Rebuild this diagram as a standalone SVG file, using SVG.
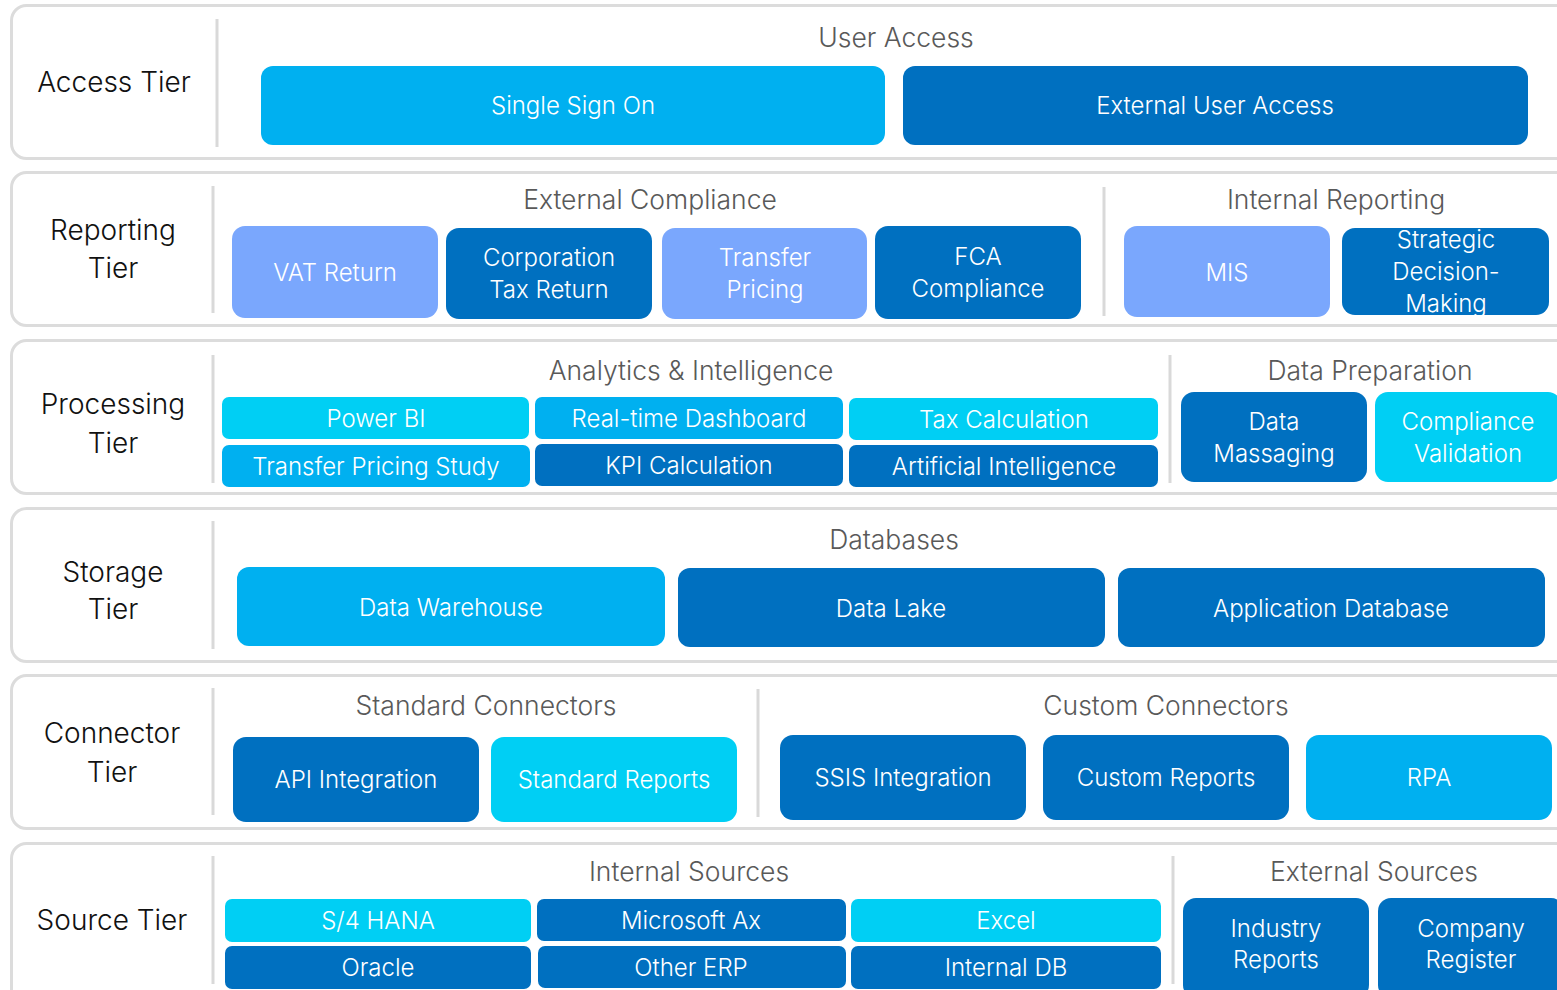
<svg xmlns="http://www.w3.org/2000/svg" width="1557" height="990" viewBox="0 0 1557 990">
<style>
.tier{fill:#fff;stroke:#dcdcdc;stroke-width:3}
.div{stroke:#d9d9d9;stroke-width:3}
.lbl{font-family:Inter,"Liberation Sans",sans-serif;font-weight:300;font-size:28px;fill:#111;text-anchor:middle}
.hdr{font-family:Inter,"Liberation Sans",sans-serif;font-weight:300;font-size:26.5px;fill:#595959;text-anchor:middle}
.t{font-family:Inter,"Liberation Sans",sans-serif;font-weight:300;font-size:24px;fill:#fff;text-anchor:middle}
.sky{fill:#00B0F0}
.dark{fill:#0070C0}
.peri{fill:#7AA7FD}
.cyan{fill:#00CFF4}
</style>
<rect width="1557" height="990" fill="#fff"/>

<g id="tiers">
<rect class="tier" x="11.5" y="5.5" width="1570" height="153" rx="15"/>
<rect class="tier" x="11.5" y="172.5" width="1570" height="153" rx="15"/>
<rect class="tier" x="11.5" y="340.5" width="1570" height="153" rx="15"/>
<rect class="tier" x="11.5" y="508.5" width="1570" height="153" rx="15"/>
<rect class="tier" x="11.5" y="675.5" width="1570" height="153" rx="15"/>
<rect class="tier" x="11.5" y="843.5" width="1570" height="160" rx="15"/>
<line class="div" x1="217" y1="19" x2="217" y2="147"/>
<line class="div" x1="213" y1="186" x2="213" y2="313"/>
<line class="div" x1="1104" y1="187" x2="1104" y2="316"/>
<line class="div" x1="213" y1="355" x2="213" y2="483"/>
<line class="div" x1="1170" y1="355" x2="1170" y2="483"/>
<line class="div" x1="213" y1="521" x2="213" y2="649"/>
<line class="div" x1="213" y1="688" x2="213" y2="815"/>
<line class="div" x1="758" y1="689" x2="758" y2="817"/>
<line class="div" x1="213" y1="856" x2="213" y2="984"/>
<line class="div" x1="1173" y1="856" x2="1173" y2="984"/>
<text class="lbl" x="114" y="92">Access Tier</text>
<text class="lbl" x="113" y="240">Reporting</text>
<text class="lbl" x="113" y="278">Tier</text>
<text class="lbl" x="113" y="414">Processing</text>
<text class="lbl" x="113" y="453">Tier</text>
<text class="lbl" x="113" y="582">Storage</text>
<text class="lbl" x="113" y="619">Tier</text>
<text class="lbl" x="112" y="743">Connector</text>
<text class="lbl" x="112" y="782">Tier</text>
<text class="lbl" x="112" y="930">Source Tier</text>
<text class="hdr" x="896" y="47">User Access</text>
<text class="hdr" x="650" y="209">External Compliance</text>
<text class="hdr" x="1336" y="209">Internal Reporting</text>
<text class="hdr" x="691" y="380">Analytics &amp; Intelligence</text>
<text class="hdr" x="1370" y="380">Data Preparation</text>
<text class="hdr" x="894" y="549">Databases</text>
<text class="hdr" x="486" y="715">Standard Connectors</text>
<text class="hdr" x="1166" y="715">Custom Connectors</text>
<text class="hdr" x="689" y="881">Internal Sources</text>
<text class="hdr" x="1374" y="881">External Sources</text>
</g>

<g id="n-sso"><rect class="sky" x="261" y="66" width="624" height="79" rx="12"/><text class="t" x="573" y="114">Single Sign On</text></g>
<g id="n-ext-user"><rect class="dark" x="903" y="66" width="625" height="79" rx="12"/><text class="t" x="1215" y="114">External User Access</text></g>

<g id="n-vat"><rect class="peri" x="232" y="226" width="206" height="92" rx="13"/><text class="t" x="335" y="281">VAT Return</text></g>
<g id="n-ctr"><rect class="dark" x="446" y="228" width="206" height="91" rx="13"/><text class="t" x="549" y="266">Corporation</text><text class="t" x="549" y="298">Tax Return</text></g>
<g id="n-tp"><rect class="peri" x="662" y="228" width="205" height="91" rx="13"/><text class="t" x="765" y="266">Transfer</text><text class="t" x="765" y="298">Pricing</text></g>
<g id="n-fca"><rect class="dark" x="875" y="226" width="206" height="93" rx="13"/><text class="t" x="978" y="265">FCA</text><text class="t" x="978" y="297">Compliance</text></g>
<g id="n-mis"><rect class="peri" x="1124" y="226" width="206" height="91" rx="13"/><text class="t" x="1227" y="281">MIS</text></g>
<g id="n-sdm"><rect class="dark" x="1342" y="228" width="207" height="87" rx="13"/><text class="t" x="1446" y="248">Strategic</text><text class="t" x="1446" y="280">Decision-</text><text class="t" x="1446" y="312">Making</text></g>

<g id="n-powerbi"><rect class="cyan" x="222" y="397" width="307" height="42" rx="7"/><text class="t" x="376" y="427">Power BI</text></g>
<g id="n-rtd"><rect class="sky" x="535" y="397" width="308" height="42" rx="7"/><text class="t" x="689" y="427">Real-time Dashboard</text></g>
<g id="n-taxcalc"><rect class="cyan" x="849" y="398" width="309" height="42" rx="7"/><text class="t" x="1004" y="428">Tax Calculation</text></g>
<g id="n-tps"><rect class="sky" x="222" y="445" width="308" height="42" rx="7"/><text class="t" x="376" y="475">Transfer Pricing Study</text></g>
<g id="n-kpi"><rect class="dark" x="535" y="444" width="308" height="42" rx="7"/><text class="t" x="689" y="474">KPI Calculation</text></g>
<g id="n-ai"><rect class="dark" x="849" y="445" width="309" height="42" rx="7"/><text class="t" x="1004" y="475">Artificial Intelligence</text></g>
<g id="n-massage"><rect class="dark" x="1181" y="392" width="186" height="90" rx="13"/><text class="t" x="1274" y="430">Data</text><text class="t" x="1274" y="462">Massaging</text></g>
<g id="n-compval"><rect class="cyan" x="1375" y="392" width="186" height="90" rx="13"/><text class="t" x="1468" y="430">Compliance</text><text class="t" x="1468" y="462">Validation</text></g>

<g id="n-dw"><rect class="sky" x="237" y="567" width="428" height="79" rx="12"/><text class="t" x="451" y="616">Data Warehouse</text></g>
<g id="n-dl"><rect class="dark" x="678" y="568" width="427" height="79" rx="12"/><text class="t" x="891" y="617">Data Lake</text></g>
<g id="n-appdb"><rect class="dark" x="1118" y="568" width="427" height="79" rx="12"/><text class="t" x="1331" y="617">Application Database</text></g>

<g id="n-api"><rect class="dark" x="233" y="737" width="246" height="85" rx="13"/><text class="t" x="356" y="788">API Integration</text></g>
<g id="n-stdrep"><rect class="cyan" x="491" y="737" width="246" height="85" rx="13"/><text class="t" x="614" y="788">Standard Reports</text></g>
<g id="n-ssis"><rect class="dark" x="780" y="735" width="246" height="85" rx="13"/><text class="t" x="903" y="786">SSIS Integration</text></g>
<g id="n-custrep"><rect class="dark" x="1043" y="735" width="246" height="85" rx="13"/><text class="t" x="1166" y="786">Custom Reports</text></g>
<g id="n-rpa"><rect class="sky" x="1306" y="735" width="246" height="85" rx="13"/><text class="t" x="1429" y="786">RPA</text></g>

<g id="n-s4"><rect class="cyan" x="225" y="899" width="306" height="43" rx="7"/><text class="t" x="378" y="929">S/4 HANA</text></g>
<g id="n-msax"><rect class="dark" x="537" y="899" width="309" height="42" rx="7"/><text class="t" x="691" y="929">Microsoft Ax</text></g>
<g id="n-excel"><rect class="cyan" x="851" y="899" width="310" height="43" rx="7"/><text class="t" x="1006" y="929">Excel</text></g>
<g id="n-oracle"><rect class="dark" x="225" y="946" width="306" height="43" rx="7"/><text class="t" x="378" y="976">Oracle</text></g>
<g id="n-othererp"><rect class="dark" x="538" y="946" width="308" height="42" rx="7"/><text class="t" x="691" y="976">Other ERP</text></g>
<g id="n-intdb"><rect class="dark" x="851" y="946" width="310" height="43" rx="7"/><text class="t" x="1006" y="976">Internal DB</text></g>
<g id="n-industry"><rect class="dark" x="1183" y="898" width="186" height="100" rx="13"/><text class="t" x="1276" y="937">Industry</text><text class="t" x="1276" y="968">Reports</text></g>
<g id="n-company"><rect class="dark" x="1378" y="898" width="186" height="100" rx="13"/><text class="t" x="1471" y="937">Company</text><text class="t" x="1471" y="968">Register</text></g>

<g id="connectors"></g>
</svg>
